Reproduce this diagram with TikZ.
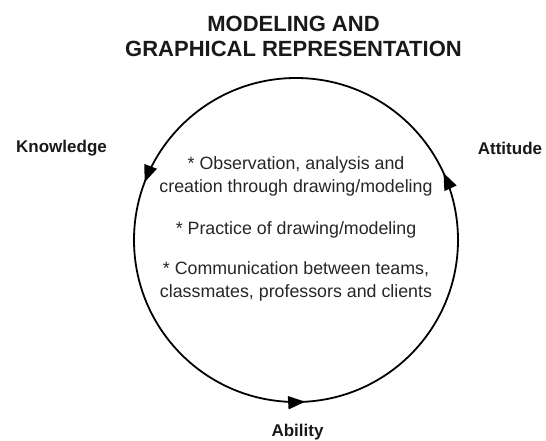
\documentclass[tikz,border=0pt]{standalone}
\usepackage{fontspec}
\setmainfont{Liberation Sans}
\usetikzlibrary{arrows.meta,decorations.markings}
\begin{document}
\begin{tikzpicture}[x=1pt,y=1pt,
  titletext/.style={font=\bfseries\fontsize{22}{25}\selectfont, align=center, inner sep=0pt, text=black!90},
  labeltext/.style={font=\bfseries\fontsize{17}{20}\selectfont, inner sep=0pt, text=black!90},
  bodytext/.style={font=\fontsize{17.8}{23}\selectfont, align=center, inner sep=0pt, text=black!85},
  cyclearrow/.style={line width=1.8pt,
    decoration={markings,
      mark=at position 0.068 with {\arrow{Triangle[length=17pt,width=13pt]}},
      mark=at position 0.442 with {\arrow{Triangle[length=17pt,width=13pt]}},
      mark=at position 0.759 with {\arrow{Triangle[length=17pt,width=13pt]}}},
    postaction={decorate}}
  ]
\useasboundingbox (0,0) rectangle (546,440);
\coordinate (ctr) at (296,200);
\draw[cyclearrow] (ctr) circle[radius=162];
\node[titletext] (title) at (293.5,404) {MODELING AND\\GRAPHICAL REPRESENTATION};
\node[labeltext] (know) at (61.5,292) {Knowledge};
\node[labeltext] (att) at (510,292) {Attitude};
\node[labeltext, anchor=base] (abil) at (297.5,4) {Ability};
\node[bodytext] (p1) at (296,263.5) {* Observation, analysis and\\creation through drawing/modeling};
\node[bodytext] (p2) at (296,210) {* Practice of drawing/modeling};
\node[bodytext] (p3) at (296,158.5) {* Communication between teams,\\classmates, professors and clients};
\end{tikzpicture}
\end{document}
